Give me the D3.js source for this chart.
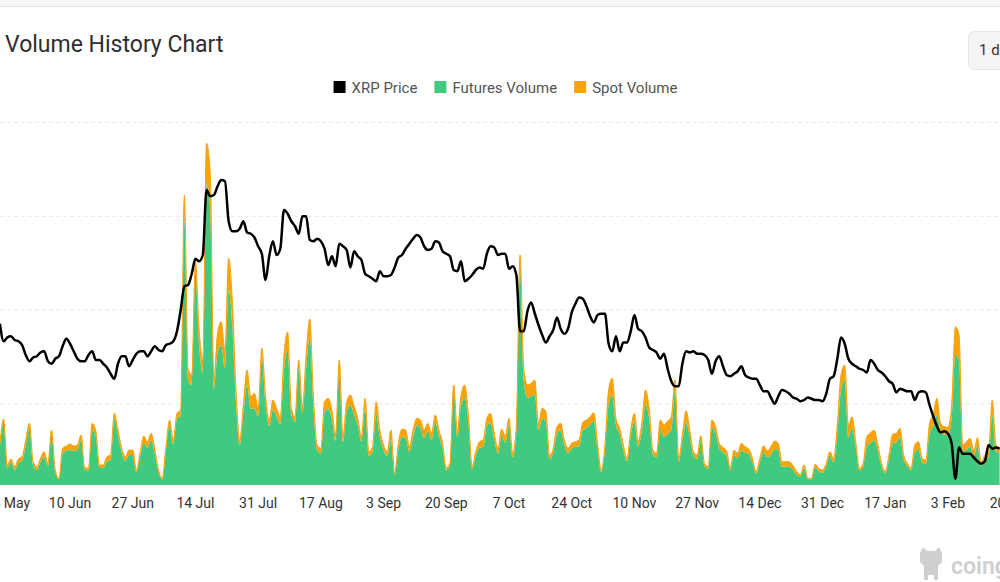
<!DOCTYPE html>
<html><head><meta charset="utf-8">
<script src="https://cdn.jsdelivr.net/npm/d3@7"></script>
<style>
body{margin:0;background:#fff;}
svg{display:block;font-family:Roboto,"Noto Sans",sans-serif;}
</style>
</head><body>
<svg id="chart" width="1000" height="582"></svg>
<script>
// ---------- DATA ----------
const titleText = "Volume History Chart";
const intervalLabel = "1 day";
const seriesNames = ["XRP Price", "Futures Volume", "Spot Volume"];
const firstDay = "2025-05-22";           // daily series start
const xDomain = ["2025-05-24", "2026-02-20"];
const tickDates = ["2025-05-24","2025-06-10","2025-06-27","2025-07-14","2025-07-31","2025-08-17",
  "2025-09-03","2025-09-20","2025-10-07","2025-10-24","2025-11-10","2025-11-27","2025-12-14",
  "2025-12-31","2026-01-17","2026-02-03","2026-02-20"];
const priceDomain = [1.2, 4.1];
const priceGridValues = [1.85, 2.6, 3.35, 4.1];
const volumeDomain = [0, 36.25];

const xrpPrice = [
2.49,2.35,2.38,2.39,2.36,2.35,2.32,2.24,2.19,2.22,
2.23,2.26,2.27,2.19,2.17,2.21,2.23,2.31,2.37,2.33,
2.27,2.21,2.19,2.19,2.24,2.27,2.20,2.20,2.17,2.14,
2.09,2.05,2.17,2.23,2.23,2.15,2.20,2.25,2.27,2.27,
2.23,2.27,2.31,2.28,2.27,2.32,2.33,2.35,2.43,2.60,
2.79,2.80,2.89,3.01,2.99,3.04,3.56,3.51,3.52,3.59,
3.64,3.63,3.31,3.23,3.23,3.25,3.31,3.22,3.21,3.18,
3.11,3.05,2.84,3.03,3.15,3.04,3.09,3.40,3.37,3.31,
3.27,3.21,3.35,3.35,3.16,3.15,3.17,3.15,3.09,2.96,
3.03,2.95,3.13,3.11,3.08,2.94,3.07,3.03,3.00,2.89,
2.87,2.85,2.83,2.91,2.87,2.87,2.88,2.94,3.02,3.04,
3.09,3.13,3.17,3.20,3.18,3.11,3.08,3.09,3.15,3.14,
3.07,3.05,3.03,2.92,2.91,2.99,2.83,2.85,2.88,2.92,
2.94,2.93,3.05,3.11,3.10,3.04,3.05,3.05,2.93,2.95,
2.88,2.43,2.43,2.59,2.66,2.57,2.48,2.40,2.34,2.39,
2.44,2.54,2.45,2.41,2.45,2.58,2.65,2.70,2.69,2.63,
2.55,2.50,2.56,2.57,2.57,2.33,2.27,2.39,2.27,2.34,
2.34,2.43,2.56,2.45,2.43,2.38,2.30,2.28,2.26,2.21,
2.25,2.13,2.03,1.99,1.99,2.17,2.27,2.26,2.27,2.25,
2.25,2.24,2.20,2.09,2.19,2.23,2.15,2.08,2.07,2.09,
2.11,2.15,2.08,2.06,2.05,2.05,2.00,1.95,1.95,1.90,
1.85,1.91,1.96,1.95,1.93,1.90,1.89,1.87,1.88,1.90,
1.89,1.88,1.88,1.87,1.93,2.05,2.07,2.21,2.38,2.33,
2.21,2.17,2.15,2.13,2.12,2.10,2.20,2.17,2.12,2.10,
2.07,2.03,2.01,1.94,1.97,1.96,1.95,1.95,1.88,1.94,
1.95,1.94,1.84,1.75,1.67,1.62,1.63,1.61,1.53,1.25,
1.50,1.45,1.45,1.45,1.42,1.39,1.37,1.39,1.52,1.49,
1.50,1.49];

const futuresVolume = [
3.87,6.3,1.7,2.3,1.53,2.2,2.43,4.0,5.67,2.03,
1.53,2.27,2.83,1.87,5.0,1.3,0.57,3.17,3.4,3.5,
3.4,3.5,4.5,1.53,1.47,5.47,4.8,1.7,1.7,2.33,
2.5,6.67,5.0,3.27,2.43,3.0,3.0,1.3,2.8,4.2,
3.73,4.47,3.1,1.3,0.57,3.43,6.0,4.1,6.67,6.9,
27.0,10.47,10.0,21.33,14.0,11.2,30.07,27.83,9.67,13.2,
14.03,11.7,19.47,16.0,8.3,4.0,7.2,10.0,7.63,7.67,
6.87,12.67,8.2,5.9,7.5,6.87,6.1,11.5,13.5,7.07,
6.33,11.7,7.23,11.7,14.9,7.87,3.5,3.17,7.33,7.57,
6.6,4.4,11.1,4.33,7.33,8.0,7.03,5.97,4.33,7.67,
2.93,3.33,7.13,4.8,3.5,2.93,4.5,0.97,3.57,4.8,
4.7,3.33,4.8,5.97,5.7,4.7,5.37,4.47,6.3,4.9,
3.67,1.53,1.87,9.5,4.83,8.0,8.7,6.2,1.63,2.93,
3.73,3.8,5.97,6.17,4.57,3.17,4.9,4.23,5.97,2.77,
5.4,21.8,10.47,8.7,8.87,9.1,5.47,6.67,6.33,2.6,
3.27,5.13,5.47,4.0,3.17,3.67,3.83,3.9,5.47,5.7,
6.03,6.43,3.67,1.3,3.5,8.0,8.97,5.97,5.07,3.5,
2.37,4.9,6.37,3.9,5.37,8.0,6.67,3.1,2.77,5.5,
4.8,5.1,5.53,9.5,2.37,4.4,6.23,4.8,2.93,2.6,
4.43,1.87,1.63,5.7,5.23,3.67,3.27,2.9,1.53,3.0,
2.67,3.47,3.23,3.1,2.27,1.13,2.27,3.33,2.8,3.03,
3.6,3.47,1.83,1.83,1.83,1.53,1.03,0.87,1.7,0.57,
0.57,1.77,1.37,1.2,1.87,2.93,2.27,5.2,9.5,10.5,
4.8,5.63,3.83,1.47,1.87,3.83,4.23,4.47,3.4,1.87,
1.2,2.5,4.17,4.27,4.77,2.6,1.87,1.47,3.3,3.53,
2.27,2.1,5.17,5.87,6.97,5.37,5.03,4.97,6.8,13.03,
12.4,3.4,3.53,3.87,2.93,3.93,1.93,2.5,2.83,7.0,
3.4,3.17];

const spotVolume = [
0.3,0.3,0.3,0.3,0.3,0.4,0.4,0.5,0.5,0.3,
0.3,0.4,0.5,0.3,0.5,0.2,0.1,0.5,0.5,0.6,
0.5,0.5,0.5,0.2,0.2,0.7,0.6,0.3,0.3,0.5,
0.5,0.5,0.5,0.4,0.4,0.5,0.5,0.2,0.4,0.7,
0.6,0.7,0.4,0.2,0.1,0.4,0.5,0.4,0.5,0.6,
2.0,1.2,1.0,1.0,1.5,1.3,4.1,3.5,1.0,2.0,
2.3,1.8,3.2,2.5,1.2,0.5,0.8,1.5,1.2,1.5,
0.8,1.0,0.8,0.6,1.0,0.8,0.7,1.5,1.8,0.6,
0.5,0.8,0.6,1.3,1.7,0.8,0.5,0.5,1.0,1.1,
0.9,0.6,1.4,0.5,1.0,1.0,0.9,0.7,0.5,1.0,
0.4,0.5,1.2,0.7,0.5,0.4,1.0,0.2,0.6,0.8,
0.8,0.5,0.7,0.7,0.8,0.8,0.8,0.7,0.7,0.6,
0.5,0.2,0.3,0.5,0.5,1.0,1.3,0.8,0.2,0.4,
0.6,0.7,0.7,1.0,0.6,0.5,0.7,0.7,0.7,0.4,
0.6,1.2,1.2,1.3,1.3,1.4,0.7,1.0,1.0,0.4,
0.4,0.7,0.7,0.5,0.5,0.5,0.5,0.6,0.8,0.8,
0.8,0.8,0.5,0.2,0.5,1.5,1.7,0.7,0.6,0.5,
0.3,0.6,0.8,0.5,0.8,1.5,1.0,0.4,0.4,1.0,
1.2,1.3,1.3,1.0,0.3,0.6,1.2,0.7,0.4,0.4,
0.5,0.3,0.2,0.8,0.6,0.5,0.5,0.5,0.2,0.5,
0.5,0.7,0.6,0.5,0.4,0.2,0.4,0.6,0.6,0.8,
0.8,0.7,0.5,0.5,0.5,0.4,0.3,0.2,0.3,0.1,
0.1,0.3,0.3,0.3,0.3,0.4,0.4,0.8,1.5,1.5,
1.2,1.2,0.5,0.2,0.3,1.0,1.0,1.0,0.6,0.3,
0.2,0.5,0.9,0.9,0.9,0.4,0.3,0.2,0.7,0.8,
0.4,0.4,1.0,1.2,1.7,0.8,0.8,0.8,1.2,2.8,
2.6,0.6,0.8,0.8,0.5,0.8,0.4,0.5,0.5,1.5,
0.6,0.5];

// ---------- BUILD ----------
const parse = d3.utcParse("%Y-%m-%d");
const day0 = parse(firstDay);
const rows = xrpPrice.map((p, i) => ({
  date: d3.utcDay.offset(day0, i),
  price: p,
  futures: futuresVolume[i],
  spot: spotVolume[i]
}));

const W = 1000, H = 582;
const plotTop = 122.5, plotBottom = 485;
const svg = d3.select("#chart");

const x = d3.scaleUtc().domain(xDomain.map(parse)).range([7.3, 1010.7]);
const yP = d3.scaleLinear().domain(priceDomain).range([plotBottom, plotTop]);
const yV = d3.scaleLinear().domain(volumeDomain).range([plotBottom, plotTop]);

// page frame
svg.append("rect").attr("x",0).attr("y",0).attr("width",W).attr("height",6).attr("fill","#f5f5f6");
svg.append("line").attr("x1",0).attr("x2",W).attr("y1",6.5).attr("y2",6.5).attr("stroke","#e3e3e5");

// title
svg.append("text").attr("x",5).attr("y",52).attr("font-size",23).attr("font-weight",400)
  .attr("fill","#2e2e2e").text(titleText);

// interval button
svg.append("rect").attr("x",968.5).attr("y",31.5).attr("width",60).attr("height",38).attr("rx",6)
  .attr("fill","#f4f4f5").attr("stroke","#e4e4e7");
svg.append("text").attr("x",979).attr("y",55).attr("font-size",15).attr("fill","#333").text(intervalLabel);

// legend
const legendColors = ["#000000", "#41c97f", "#f6a30d"];
const lg = svg.append("g").attr("font-size",15).attr("fill","#555");
let lx = 0;
seriesNames.forEach((n, i) => {
  const g = lg.append("g");
  g.append("rect").attr("x",0).attr("y",81).attr("width",12).attr("height",12).attr("fill",legendColors[i]);
  const t = g.append("text").attr("x",18).attr("y",92.5).text(n);
  const w = 18 + t.node().getComputedTextLength();
  g.attr("transform", `translate(${lx},0)`);
  lx += w + 17;
});
const legendW = lx - 17;
lg.attr("transform", `translate(${(333 + 678) / 2 - legendW / 2},0)`);

// grid lines (from price scale ticks)
svg.append("g").selectAll("line").data(priceGridValues).join("line")
  .attr("x1",0).attr("x2",W).attr("y1",d=>yP(d)).attr("y2",d=>yP(d))
  .attr("stroke","#e6e6e6").attr("stroke-dasharray","4,3");

// stacked volume areas
const stack = d3.stack().keys(["futures","spot"]);
const layers = stack(rows);
const area = d3.area().curve(d3.curveMonotoneX)
  .x(d => x(d.data.date)).y0(d => yV(d[0])).y1(d => yV(d[1]));
const areaColors = ["#41c97f", "#f6a30d"];
svg.append("g").selectAll("path").data(layers).join("path")
  .attr("d", area).attr("fill", (d,i) => areaColors[i]);
svg.append("path").datum(layers[1])
  .attr("d", d3.line().curve(d3.curveMonotoneX).x(d=>x(d.data.date)).y(d=>yV(d[1])))
  .attr("fill","none").attr("stroke","#f6a30d").attr("stroke-width",1);

// price line
svg.append("path").datum(rows)
  .attr("d", d3.line().curve(d3.curveMonotoneX).x(d=>x(d.date)).y(d=>yP(d.price)))
  .attr("fill","none").attr("stroke","#000").attr("stroke-width",2.5).attr("stroke-linejoin","round");

// x axis labels
const fmt = d3.utcFormat("%-d %b");
svg.append("g").attr("font-size",14).attr("fill","#333").attr("text-anchor","middle")
  .selectAll("text").data(tickDates.map(parse)).join("text")
  .attr("x", d => x(d)).attr("y", 507.5).text(d => fmt(d));

// watermark
const wm = svg.append("g").attr("fill","#cfcfcf");
wm.append("path").attr("d","M920,553 l3,-6 l4,4 h8 l4,-4 l3,6 v9 l-4,4 v14 h-4 v-5 h-6 v5 h-4 v-14 l-4,-4 z");
wm.append("text").attr("x",951).attr("y",574).attr("font-size",23).attr("font-weight",600).text("coinglass");
</script>
</body></html>
